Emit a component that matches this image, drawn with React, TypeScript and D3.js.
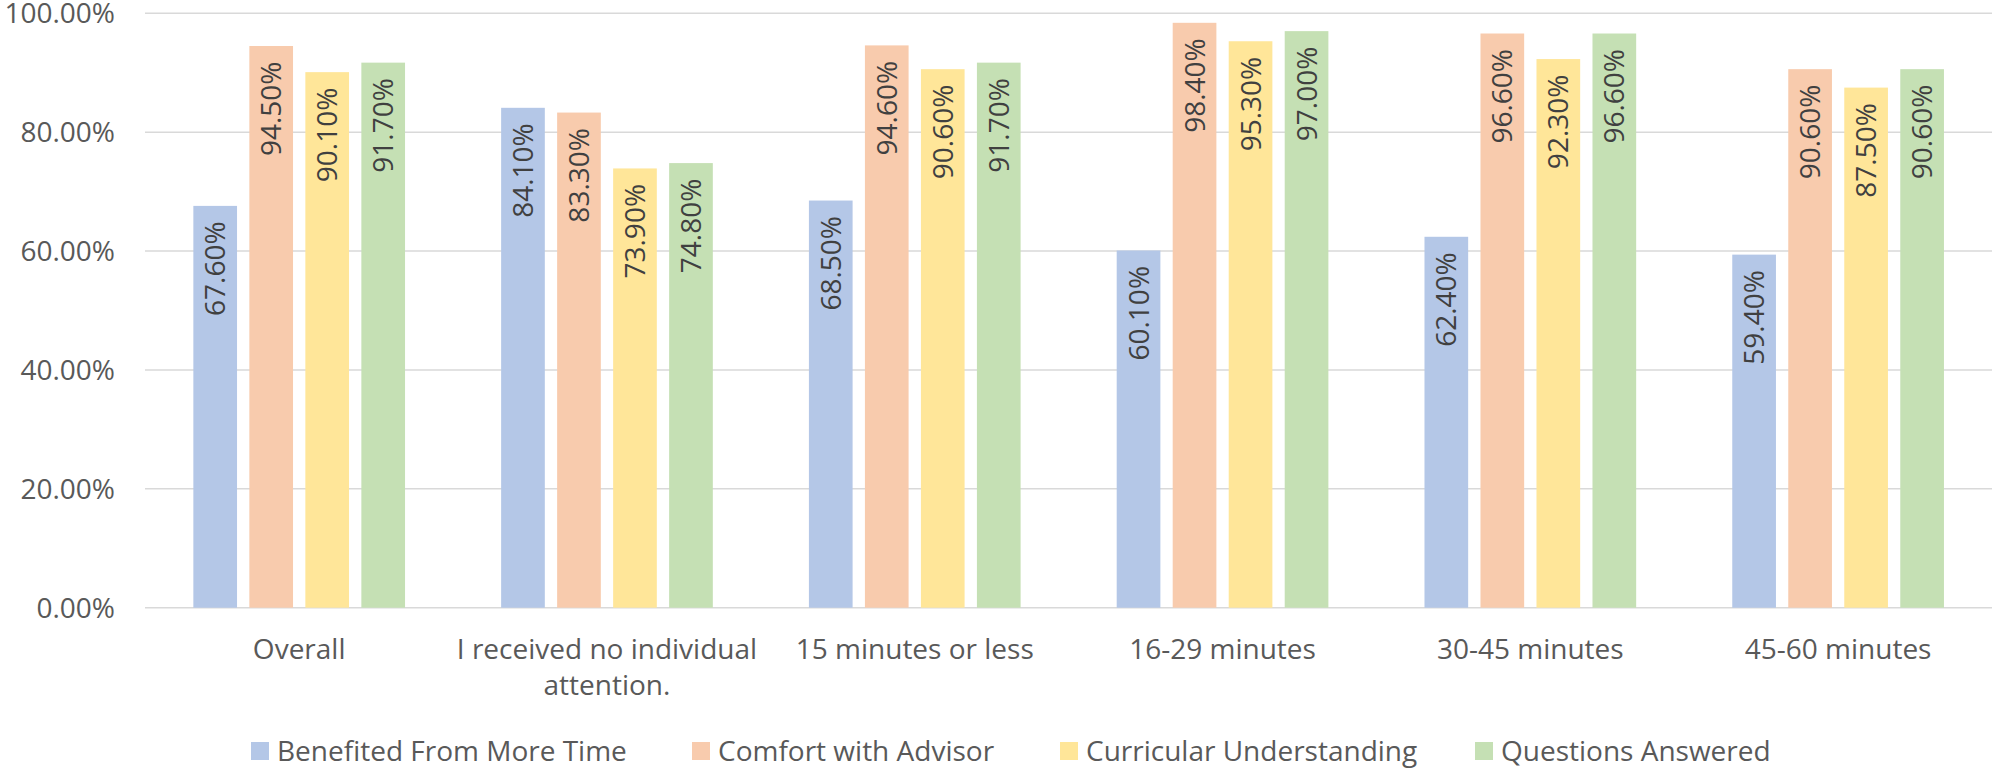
import React from 'react';
import * as d3 from 'd3';

const categories = [
  ['Overall'],
  ['I received no individual', 'attention.'],
  ['15 minutes or less'],
  ['16-29 minutes'],
  ['30-45 minutes'],
  ['45-60 minutes'],
];

const seriesNames = [
  'Benefited From More Time',
  'Comfort with Advisor',
  'Curricular Understanding',
  'Questions Answered',
];

const benefitedFromMoreTime = [67.6, 84.1, 68.5, 60.1, 62.4, 59.4];
const comfortWithAdvisor = [94.5, 83.3, 94.6, 98.4, 96.6, 90.6];
const curricularUnderstanding = [90.1, 73.9, 90.6, 95.3, 92.3, 87.5];
const questionsAnswered = [91.7, 74.8, 91.7, 97.0, 96.6, 90.6];

const yTicks = [0, 20, 40, 60, 80, 100];

const colors = ['#B4C7E7', '#F8CBAD', '#FFE699', '#C5E0B4'];

const W = 1992;
const H = 768;
const font = '"Open Sans", sans-serif';
const fs = 28;

const App: React.FC = () => {
  const seriesValues = [benefitedFromMoreTime, comfortWithAdvisor, curricularUnderstanding, questionsAnswered];

  // échelles
  const x0 = d3.scaleBand<number>()
    .domain(d3.range(categories.length))
    .range([145.3, 1992])
    .padding(0);

  const x1 = d3.scaleBand<number>()
    .domain(d3.range(seriesNames.length))
    .range([0, x0.bandwidth()])
    .paddingInner(0.22)
    .paddingOuter(0.858);

  const y = d3.scaleLinear()
    .domain([0, 100])
    .range([607.7, 13.3]);

  // légende
  const legendX = [251, 692, 1060, 1475];

  return (
    <svg width={W} height={H} style={{ position: 'absolute', left: 0, top: 0, background: '#fff' }}>
      {/* grille */}
      {yTicks.map(t => (
        <g key={t}>
          <line x1={145} x2={1992} y1={y(t)} y2={y(t)} stroke="#D9D9D9" strokeWidth={1.5} />
          <text
            x={115}
            y={y(t)}
            dy="0.36em"
            textAnchor="end"
            fontFamily={font}
            fontSize={fs}
            fill="#595959"
          >
            {t.toFixed(2)}%
          </text>
        </g>
      ))}

      {/* barres */}
      {categories.map((cat, ci) => (
        <g key={ci} transform={`translate(${x0(ci)},0)`}>
          {seriesValues.map((vals, si) => {
            const bx = x1(si) as number;
            const bw = x1.bandwidth();
            const top = y(vals[ci]);
            return (
              <g key={si}>
                <rect x={bx} y={top} width={bw} height={y(0) - top} fill={colors[si]} />
                <text
                  transform={`translate(${bx + bw / 2},${top + 15.5}) rotate(-90)`}
                  textAnchor="end"
                  dy="0.36em"
                  fontFamily={font}
                  fontSize={fs}
                  fill="#404040"
                >
                  {vals[ci].toFixed(2)}%
                </text>
              </g>
            );
          })}
          {cat.map((line, li) => (
            <text
              key={li}
              x={x0.bandwidth() / 2}
              y={659 + li * 36}
              textAnchor="middle"
              fontFamily={font}
              fontSize={fs}
              fill="#595959"
            >
              {line}
            </text>
          ))}
        </g>
      ))}

      {/* légende */}
      {seriesNames.map((name, i) => (
        <g key={name} transform={`translate(${legendX[i]},742)`}>
          <rect x={0} y={0} width={18} height={18} fill={colors[i]} />
          <text x={26} y={19} fontFamily={font} fontSize={fs} fill="#595959">
            {name}
          </text>
        </g>
      ))}
    </svg>
  );
};

export default App;
